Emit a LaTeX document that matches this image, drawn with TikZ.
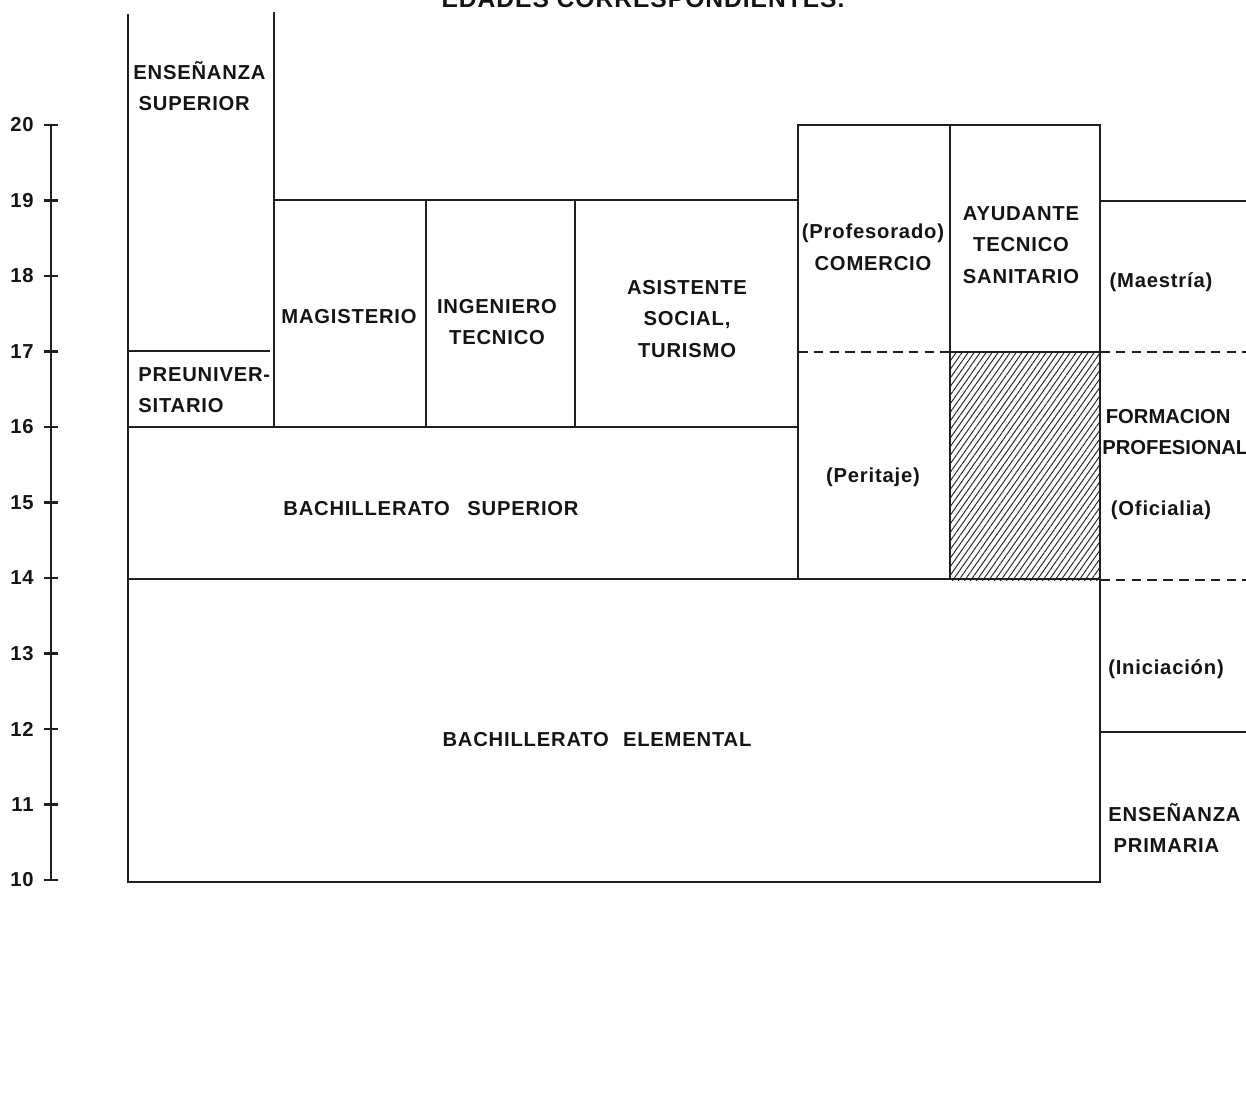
\documentclass[tikz,border=0pt]{standalone}
\usepackage{fontspec}
\setmainfont{Liberation Sans}[LetterSpace=4]
\usepackage{tikz}
\usetikzlibrary{positioning,patterns.meta}
\tikzset{
  % --- lines -----------------------------------------------------------
  rule/.style    ={line width=1.3pt, draw=black!88},
  split/.style   ={line width=1.3pt, draw=black!88, dash pattern=on 5.5pt off 3.5pt},
  hatch/.style   ={pattern={Lines[angle=55, distance=2.8pt, line width=0.55pt]},
                   pattern color=black!85},
  % --- texts -----------------------------------------------------------
  lab/.style     ={font=\fontsize{11.5}{18}\selectfont\bfseries, text=black!92,
                   align=center, inner sep=0pt},
  labl/.style    ={lab, align=left},
  num/.style     ={lab, anchor=east},
  ttl/.style     ={font=\fontsize{14}{16}\selectfont\bfseries, text=black!92,
                   anchor=base, inner sep=0pt},
}

\begin{document}
\begin{tikzpicture}[x=0.02cm, y=-0.02cm]
  \useasboundingbox (0,0) rectangle (1246,1109);
  \clip (0,0) rectangle (1246,1109);

  % ============================= title (cut at the page top) =============================
  \node[ttl] (title) at (643,7) {EDADES CORRESPONDIENTES.};

  % ============================= age scale =============================
  \draw[rule] (51,125) -- (51,880);
  \foreach \age [count=\i from 0] in {20,19,...,10} {
    \pgfmathsetmacro{\yy}{125+75.5*\i}
    \draw[rule] (44,\yy) -- (58,\yy);
    \node[num] (age\age) at (34,\yy) {\age};
  }

  % ============================= hatched block =============================
  \fill[hatch] (950,352) rectangle (1100,580);

  % ============================= frames =============================
  \draw[rule] (128,14) -- (128,882) -- (1100,882) -- (1100,125) -- (798,125) -- (798,580);
  \draw[rule] (274,12) -- (274,427);
  \draw[rule] (128,351) -- (270,351);
  \draw[rule] (274,200) -- (798,200);
  \draw[rule] (426,200) -- (426,427);
  \draw[rule] (575,200) -- (575,427);
  \draw[rule] (128,427) -- (798,427);
  \draw[rule] (950,125) -- (950,580);
  \draw[rule] (950,352) -- (1100,352);
  \draw[rule] (128,579) -- (1100,579);
  \draw[rule] (1100,201) -- (1246,201);
  \draw[rule] (1100,732) -- (1246,732);
  \draw[split] (798,352) -- (950,352);
  \draw[split] (1100,352) -- (1246,352);
  \draw[split] (1100,580) -- (1246,580);

  % ============================= labels =============================
  \node[labl, anchor=west] (supe) at (133,86)  {ENSEÑANZA\\\hspace*{3pt}SUPERIOR};
  \node[labl, anchor=west] (preu) at (138,390) {PREUNIVER-\\SITARIO};
  \node[lab] (magi) at (349,317) {MAGISTERIO};
  \node[lab] (inge) at (497,322) {INGENIERO\\TECNICO};
  \node[lab] (asis) at (687,319) {ASISTENTE\\SOCIAL,\\TURISMO};
  \node[lab] (come) at (873,247) {(Profesorado)\\COMERCIO};
  \node[lab] (peri) at (873,477) {(Peritaje)};
  \node[lab] (ayud) at (1021,245) {AYUDANTE\\TECNICO\\SANITARIO};
  \node[lab] (maes) at (1161,282) {(Maestría)};
  \node[labl, anchor=west, font=\fontsize{11.5}{18}\selectfont\bfseries\addfontfeature{LetterSpace=0}]
    (form) at (1102,432) {\hspace*{2pt}FORMACION\\PROFESIONAL};
  \node[lab] (ofic) at (1161,510) {(Oficialia)};
  \node[lab] (inic) at (1166,669) {(Iniciación)};
  \node[labl, anchor=west] (prim) at (1108,828) {ENSEÑANZA\\\hspace*{3pt}PRIMARIA};
  \node[lab] (bsup) at (431,509) {BACHILLERATO\hspace{10pt}SUPERIOR};
  \node[lab] (bele) at (597,740) {BACHILLERATO\hspace{8pt}ELEMENTAL};

\end{tikzpicture}
\end{document}
